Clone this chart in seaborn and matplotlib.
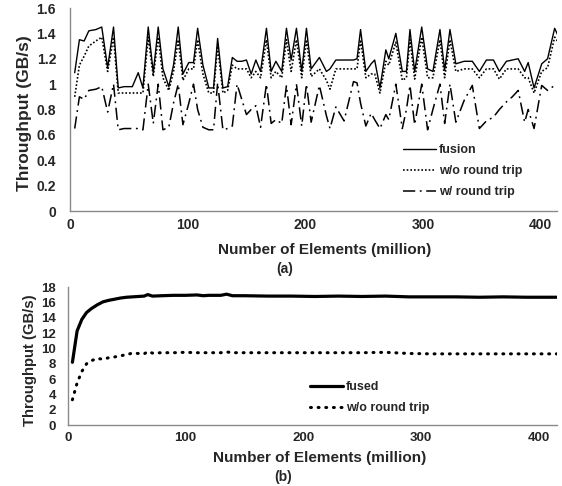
import matplotlib
matplotlib.use("Agg")
import matplotlib.pyplot as plt
import seaborn as sns
import pandas as pd
from matplotlib.lines import Line2D

# ---------------- data (a) ----------------
x_a = [4, 8, 12, 16, 22, 27, 32, 37, 41, 46, 53, 58, 62, 66.5, 70.8, 75, 79, 84, 88,
       92, 96, 101, 105, 108.5, 113, 118, 122, 125.5, 130, 134, 138, 142, 146, 150,
       154, 158, 162, 167, 171, 175, 180, 184, 188, 192.5, 197, 201, 205, 212, 218,
       221, 226, 233, 241, 244, 247, 251.5, 256, 259, 263.5, 268.5, 271, 277, 282.5,
       286, 289, 293, 299, 304, 308.5, 314.5, 318.5, 323, 328, 335, 342, 348, 354,
       360, 365, 371, 376, 381, 386.5, 389.5, 394.5, 401, 406, 412, 416]
fusion = [1.09, 1.35, 1.34, 1.42, 1.43, 1.45, 1.13, 1.45, 0.97, 0.98, 0.98, 1.09, 0.97,
          1.45, 1.09, 1.45, 1.12, 0.98, 1.15, 1.45, 1.08, 1.17, 1.17, 1.44, 1.15, 0.97,
          0.97, 1.36, 0.97, 0.98, 1.21, 1.18, 1.18, 1.19, 1.08, 1.19, 1.10, 1.44, 1.10,
          1.18, 1.10, 1.44, 1.19, 1.44, 1.10, 1.44, 1.12, 1.21, 1.10, 1.12, 1.19, 1.19,
          1.19, 1.20, 1.43, 1.10, 1.16, 1.19, 0.97, 1.27, 1.20, 1.40, 1.10, 1.10, 1.43,
          1.10, 1.45, 1.12, 1.10, 1.43, 1.11, 1.43, 1.16, 1.18, 1.18, 1.10, 1.19, 1.19,
          1.10, 1.18, 1.19, 1.20, 1.10, 1.17, 0.97, 1.16, 1.20, 1.44, 1.36]
wo_round_trip_a = [0.90, 1.15, 1.22, 1.30, 1.34, 1.37, 1.10, 1.37, 0.93, 0.93, 0.93, 0.93,
                   0.93, 1.37, 1.06, 1.37, 1.05, 0.95, 1.10, 1.35, 1.03, 1.12, 1.12, 1.35,
                   1.08, 0.93, 0.93, 1.30, 0.93, 0.95, 1.15, 1.12, 1.12, 1.12, 1.05, 1.10,
                   1.05, 1.35, 1.05, 1.10, 1.05, 1.35, 1.10, 1.35, 1.05, 1.35, 1.06, 1.12,
                   1.03, 0.96, 1.12, 1.12, 1.12, 1.12, 1.35, 1.05, 1.08, 1.08, 0.93, 1.18,
                   1.15, 1.33, 1.03, 1.05, 1.35, 1.04, 1.37, 1.05, 1.05, 1.35, 1.05, 1.35,
                   1.10, 1.12, 1.12, 1.05, 1.12, 1.12, 1.04, 1.12, 1.12, 1.12, 1.05, 1.05,
                   0.93, 1.10, 1.13, 1.37, 1.32]
w_round_trip = [0.65, 0.90, 0.88, 0.95, 0.96, 0.98, 0.78, 1.00, 0.64, 0.65, 0.65, 0.65,
                0.64, 1.00, 0.69, 1.00, 0.64, 0.66, 0.85, 1.00, 0.68, 0.85, 1.00, 0.80,
                0.66, 0.64, 0.64, 1.01, 0.64, 0.65, 0.67, 1.00, 0.88, 0.76, 0.80, 0.83,
                0.66, 1.00, 0.69, 0.72, 0.69, 0.99, 0.68, 1.00, 0.67, 1.00, 0.70, 0.99,
                0.75, 0.65, 0.82, 0.71, 1.02, 1.01, 0.85, 0.67, 0.77, 0.72, 0.65, 0.76,
                0.72, 1.00, 0.65, 0.80, 0.99, 0.68, 1.00, 0.64, 0.80, 1.00, 0.69, 1.00,
                0.70, 0.87, 0.99, 0.65, 0.71, 0.74, 0.80, 0.86, 0.90, 0.95, 0.70, 0.80,
                0.65, 0.99, 0.95, 0.99, 1.00]

# ---------------- data (b) ----------------
x_b = [4, 8, 12, 16, 20, 25, 30, 35, 40, 45, 50, 55, 60, 65, 68, 72, 80, 90, 100, 110,
       115, 120, 130, 135, 140, 150, 170, 190, 210, 230, 250, 270, 290, 310, 330, 350,
       370, 390, 410, 416]
fused = [8.2, 12.3, 13.8, 14.7, 15.2, 15.7, 16.1, 16.3, 16.45, 16.6, 16.7, 16.75, 16.8,
         16.85, 17.05, 16.85, 16.9, 16.95, 16.95, 17.0, 16.9, 16.95, 16.95, 17.1, 16.9,
         16.9, 16.85, 16.85, 16.8, 16.85, 16.8, 16.85, 16.75, 16.75, 16.75, 16.7, 16.75,
         16.7, 16.7, 16.7]
wo_round_trip_b = [3.3, 5.5, 7.0, 8.0, 8.4, 8.7, 8.6, 8.8, 8.9, 9.05, 9.2, 9.4, 9.35,
                   9.3, 9.6, 9.4, 9.45, 9.45, 9.5, 9.45, 9.45, 9.45, 9.45, 9.55, 9.45,
                   9.45, 9.45, 9.45, 9.45, 9.45, 9.45, 9.5, 9.35, 9.3, 9.3, 9.3, 9.3,
                   9.3, 9.3, 9.3]

yticks_a = [0, 0.2, 0.4, 0.6, 0.8, 1.0, 1.2, 1.4, 1.6]
yticklabels_a = ["0", "0.2", "0.4", "0.6", "0.8", "1", "1.2", "1.4", "1.6"]
yticks_b = [0, 2, 4, 6, 8, 10, 12, 14, 16, 18]
xticks = [0, 100, 200, 300, 400]

sns.set_theme(style="white")
plt.rcParams["font.family"] = ["Liberation Sans", "DejaVu Sans"]
plt.rcParams["font.weight"] = "bold"

W, H = 562, 486
fig = plt.figure(figsize=(W / 100, H / 100), dpi=100)
fig.patch.set_facecolor("white")

def px_axes(l, t, r, b):
    return fig.add_axes([l / W, 1 - b / H, (r - l) / W, (b - t) / H])

spine_c = "#8a8a8a"

def style_axes(ax, fs, ypad):
    for s in ["top", "right"]:
        ax.spines[s].set_visible(False)
    for s in ["left", "bottom"]:
        ax.spines[s].set_color(spine_c)
        ax.spines[s].set_linewidth(1.0)
    ax.tick_params(axis="both", which="major", direction="out", length=3.5,
                   width=0.8, color=spine_c, labelsize=fs)
    ax.tick_params(axis="y", pad=ypad)
    ax.tick_params(axis="x", pad=1.5)
    for lab in ax.get_xticklabels() + ax.get_yticklabels():
        lab.set_fontweight("bold")
    ax.set_xlabel("")
    ax.set_ylabel("")
    ax.grid(False)

# ---------- top (a) ----------
ax1 = px_axes(70, 8, 557, 211)
df_a = pd.DataFrame({"x": x_a, "fusion": fusion, "wo": wo_round_trip_a, "w": w_round_trip})
sns.lineplot(data=df_a, x="x", y="fusion", ax=ax1, color="black", linewidth=1.0)
sns.lineplot(data=df_a, x="x", y="wo", ax=ax1, color="black", linewidth=1.2,
             linestyle=(0, (1, 1.2)))
sns.lineplot(data=df_a, x="x", y="w", ax=ax1, color="black", linewidth=1.1,
             linestyle=(0, (8, 3, 1.2, 3)))
ax1.set_xlim(0, 414)
ax1.set_ylim(0, 1.6)
ax1.set_xticks(xticks)
ax1.set_yticks(yticks_a)
ax1.set_yticklabels(yticklabels_a)
style_axes(ax1, 10, 6.5)
h1 = [Line2D([], [], color="black", lw=1.0),
      Line2D([], [], color="black", lw=1.2, ls=(0, (1, 1.2))),
      Line2D([], [], color="black", lw=1.1, ls=(0, (8, 3, 1.2, 3)))]
ax1.legend(h1, ["fusion", "w/o round trip", "w/ round trip"], frameon=False,
           loc="upper left", bbox_to_anchor=(403 / W, 1 - 144 / H),
           bbox_transform=fig.transFigure, borderpad=0, borderaxespad=0,
           handlelength=2.6, handletextpad=0.25, labelspacing=0.72,
           prop={"size": 9, "weight": "bold"})

fig.text(25 / W, 1 - 113 / H, "Throughput (GB/s)", rotation=90, ha="center",
         va="center", fontsize=12.5, fontweight="bold")
fig.text(325 / W, 1 - 250 / H, "Number of Elements (million)", ha="center",
         va="center", fontsize=11, fontweight="bold")
fig.text(285 / W, 1 - 269 / H, "(a)", ha="center", va="center", fontsize=10,
         fontweight="bold")

# ---------- bottom (b) ----------
ax2 = px_axes(67.7, 287.3, 556.7, 425)
df_b = pd.DataFrame({"x": x_b, "fused": fused, "wo": wo_round_trip_b})
sns.lineplot(data=df_b, x="x", y="fused", ax=ax2, color="black", linewidth=2.3)
sns.lineplot(data=df_b, x="x", y="wo", ax=ax2, color="black", linewidth=2.2,
             linestyle=(0, (0.3, 2.2)), dash_capstyle="round")
ax2.set_xlim(0, 415.5)
ax2.set_ylim(0, 18)
ax2.set_xticks(xticks)
ax2.set_yticks(yticks_b)
style_axes(ax2, 9.5, 5)
h2 = [Line2D([], [], color="black", lw=2.3),
      Line2D([], [], color="black", lw=2.2, ls=(0, (0.3, 2.2)), dash_capstyle="round")]
ax2.legend(h2, ["fused", "w/o round trip"], frameon=False,
           loc="upper left", bbox_to_anchor=(310 / W, 1 - 381 / H),
           bbox_transform=fig.transFigure, borderpad=0, borderaxespad=0,
           handlelength=2.6, handletextpad=0.3, labelspacing=0.75,
           prop={"size": 9, "weight": "bold"})

fig.text(30 / W, 1 - 360 / H, "Throughput (GB/s)", rotation=90, ha="center",
         va="center", fontsize=10.7, fontweight="bold")
fig.text(320 / W, 1 - 458 / H, "Number of Elements (million)", ha="center",
         va="center", fontsize=11, fontweight="bold")
fig.text(283 / W, 1 - 477 / H, "(b)", ha="center", va="center", fontsize=10,
         fontweight="bold")

fig.savefig("out.png", dpi=100, facecolor="white")
